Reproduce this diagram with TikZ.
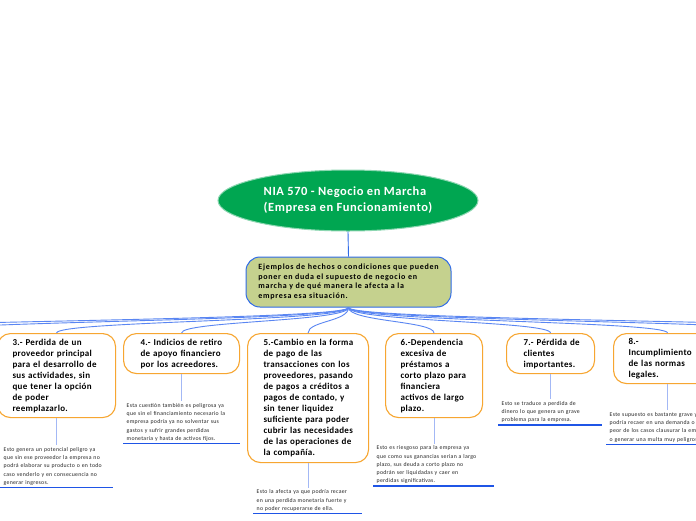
\documentclass[tikz,border=0pt]{standalone}
\usepackage{fontspec}
\setmainfont{Carlito}
\usetikzlibrary{shapes.geometric}
\definecolor{cgreen}{HTML}{00A651}
\definecolor{colive}{HTML}{C5D18E}
\definecolor{cblue}{HTML}{2F6BE8}
\definecolor{cconn}{HTML}{5A86F2}
\definecolor{cvert}{HTML}{A3B8F5}
\definecolor{corange}{HTML}{F7A631}
\definecolor{cunder}{HTML}{1F55E6}
\begin{document}
\begin{tikzpicture}[x=1pt,y=-1pt,
  topic/.style={ellipse, fill=cgreen, draw=cgreen!45!white, line width=1pt, minimum width=260pt, minimum height=61pt, inner sep=0pt, text=white, font=\fontsize{12.5}{16}\selectfont\bfseries\addfontfeatures{LetterSpace=4.5}, align=left},
  sub/.style={rectangle, rounded corners=14pt, fill=colive, draw=cblue, line width=1pt, minimum width=205pt, minimum height=50pt, inner sep=0pt, font=\fontsize{8}{9.6}\selectfont\bfseries\addfontfeatures{LetterSpace=9}, align=left},
  box/.style={rectangle, rounded corners=13pt, fill=white, draw=corange, line width=1.1pt, inner ysep=0pt, font=\fontsize{9}{11}\selectfont\bfseries\addfontfeatures{LetterSpace=3.5}, align=left, anchor=north west},
  note/.style={rectangle, inner xsep=3.5pt, inner ysep=2pt, font=\fontsize{5.8}{8.3}\selectfont\addfontfeatures{LetterSpace=4.5}, align=left, anchor=north west, text=black!85},
  conn/.style={draw=cconn, line width=0.9pt},
  vline/.style={draw=cvert, line width=0.8pt},
  uline/.style={draw=cunder, line width=1.4pt}
]
\useasboundingbox (0,0) rectangle (696,520);
\clip (0,0) rectangle (696,520);
\fill[white] (0,0) rectangle (696,520);

% main topic
\node[topic] (top) at (348,200.5) {NIA 570 - Negocio en Marcha\\(Empresa en Funcionamiento)};
\node[sub] (sub) at (348.5,282) {Ejemplos de hechos o condiciones que pueden\\poner en duda el supuesto de negocio en\\marcha y de qué manera le afecta a la\\empresa esa situación.};
\draw[draw=cblue, line width=0.9pt] (top.south) -- (sub.north);

% boxes
\node[box, inner xsep=15pt, text width=88pt, minimum height=84pt] (b3) at (-3,333)
 {\mbox{3.- Perdida de un}\\\mbox{proveedor principal}\\\mbox{para el desarrollo de}\\\mbox{sus actividades, sin}\\\mbox{que tener la opción}\\\mbox{de poder}\\\mbox{reemplazarlo.}};
\node[box, inner xsep=17pt, text width=82pt, minimum height=40pt] (b4) at (123,333)
 {\mbox{4.- Indicios de retiro}\\\mbox{de apoyo financiero}\\\mbox{por los acreedores.}};
\node[box, inner xsep=16pt, text width=89pt, minimum height=129pt] (b5) at (247,333)
 {\mbox{5.-Cambio en la forma}\\\mbox{de pago de las}\\\mbox{transacciones con los}\\\mbox{proveedores, pasando}\\\mbox{de pagos a créditos a}\\\mbox{pagos de contado, y}\\\mbox{sin tener liquidez}\\\mbox{suficiente para poder}\\\mbox{cubrir las necesidades}\\\mbox{de las operaciones de}\\\mbox{la compañía.}};
\node[box, inner xsep=15pt, text width=67pt, minimum height=84pt] (b6) at (385,333)
 {\mbox{6.-Dependencia}\\\mbox{excesiva de}\\\mbox{préstamos a}\\\mbox{corto plazo para}\\\mbox{financiera}\\\mbox{activos de largo}\\\mbox{plazo.}};
\node[box, inner xsep=17pt, text width=54pt, minimum height=40pt] (b7) at (506,333)
 {\mbox{7.- Pérdida de}\\\mbox{clientes}\\\mbox{importantes.}};
\node[box, inner xsep=15pt, text width=78pt, minimum height=50pt] (b8) at (613,333)
 {\mbox{8.-}\\\mbox{Incumplimiento}\\\mbox{de las normas}\\\mbox{legales.}};

% off-screen branches
\coordinate (offL1) at (-90,333);
\coordinate (offL2) at (-220,333);
\coordinate (offR1) at (800,333);
\coordinate (offR2) at (930,333);

\foreach \t in {offL2,offL1,b3,b4,b5,b6,b7,b8,offR1,offR2}
  \draw[conn] (sub.south) .. controls +(0,14) and +(0,-12) .. (\t.north);

% notes
\node[note, text width=106pt] (n3) at (0,445)
 {\mbox{Esto genera un potencial peligro ya}\\\mbox{que sin ese proveedor la empresa no}\\\mbox{podrá elaborar su producto o en todo}\\\mbox{caso venderlo y en consecuencia no}\\\mbox{generar ingresos.}};
\node[note, text width=110pt] (n4) at (123,401)
 {\mbox{Esta cuestión también es peligrosa ya}\\\mbox{que sin el financiamiento necesario la}\\\mbox{empresa podría ya no solventar sus}\\\mbox{gastos y sufrir grandes perdidas}\\\mbox{monetaria y hasta de activos fijos.}};
\node[note, text width=102pt] (n5) at (253,487.5)
 {\mbox{Esto la afecta ya que podría recaer}\\\mbox{en una perdida monetaria fuerte y}\\\mbox{no poder recuperarse de ella.}};
\node[note, text width=114pt] (n6) at (373,443.5)
 {\mbox{Esto es riesgoso para la empresa ya}\\\mbox{que como sus ganancias serian a largo}\\\mbox{plazo, sus deuda a corto plazo no}\\\mbox{podrán ser liquidadas y caer en}\\\mbox{perdidas significativas.}};
\node[note, text width=97pt] (n7) at (498,399)
 {\mbox{Esto se traduce a perdida de}\\\mbox{dinero lo que genera un grave}\\\mbox{problema para la empresa.}};
\node[note, text width=116pt] (n8) at (606,410)
 {\mbox{Este supuesto es bastante grave ya que}\\\mbox{podría recaer en una demanda o en el}\\\mbox{peor de los casos clausurar la empresa}\\\mbox{o generar una multa muy peligrosa.}};

\foreach \b/\n in {b3/n3,b4/n4,b5/n5,b6/n6,b7/n7,b8/n8}{
  \draw[vline] (\b.south) -- (\b.south |- \n.north);
  \draw[uline] (\n.south west) -- (\n.south east);
}
\end{tikzpicture}
\end{document}
